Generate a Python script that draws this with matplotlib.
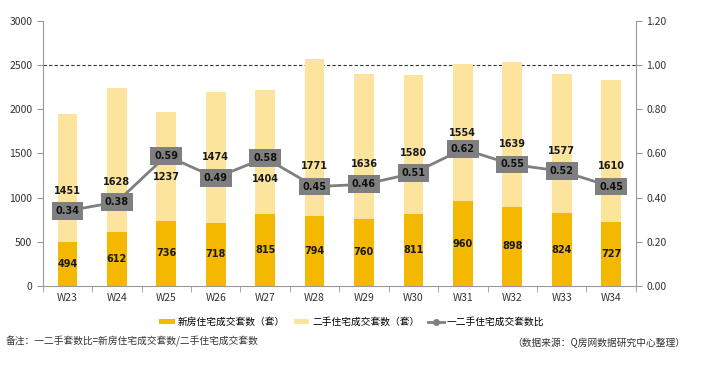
import matplotlib
matplotlib.use("Agg")
import matplotlib.pyplot as plt
from matplotlib.lines import Line2D
from matplotlib.patches import Patch
import numpy as np

plt.rcParams['font.family'] = ['Noto Sans CJK SC', 'DejaVu Sans']

weeks = ['W23', 'W24', 'W25', 'W26', 'W27', 'W28', 'W29', 'W30', 'W31', 'W32', 'W33', 'W34']
new_homes = [494, 612, 736, 718, 815, 794, 760, 811, 960, 898, 824, 727]
second_homes = [1451, 1628, 1237, 1474, 1404, 1771, 1636, 1580, 1554, 1639, 1577, 1610]
ratio = [0.34, 0.38, 0.59, 0.49, 0.58, 0.45, 0.46, 0.51, 0.62, 0.55, 0.52, 0.45]

c_new = '#F5B800'
c_sec = '#FDE49C'
c_line = '#7F7F7F'

fig = plt.figure(figsize=(7.12, 3.89), dpi=100)
ax = fig.add_axes([0.060, 0.265, 0.833, 0.681])
x = np.arange(len(weeks))
w = 0.40
ax.bar(x, new_homes, w, color=c_new, zorder=2)
ax.bar(x, second_homes, w, bottom=new_homes, color=c_sec, zorder=2)

scale = 3000 / 1.2  # left-axis units per ratio unit
for i in range(len(weeks)):
    ax.text(x[i], new_homes[i] / 2, str(new_homes[i]), ha='center', va='center',
            fontsize=7, fontweight='bold', color='#1a1a1a', zorder=4, family='DejaVu Sans')
    mid = new_homes[i] + second_homes[i] / 2
    rpos = ratio[i] * scale
    if abs(mid - rpos) < 160:
        ly = rpos - 240
    else:
        ly = min(mid, rpos + 230)
    ax.text(x[i], ly, str(second_homes[i]),
            ha='center', va='center', fontsize=7, fontweight='bold', color='#1a1a1a',
            zorder=4, family='DejaVu Sans')

ax.set_xlim(-0.5, len(weeks) - 0.5)
ax.set_ylim(0, 3000)
ax.set_yticks(range(0, 3001, 500))
ax.set_xticks(x)
ax.set_xticklabels(weeks)
ax.set_xticks(np.arange(-0.5, len(weeks), 1), minor=True)
ax.tick_params(axis='x', which='major', length=0, labelsize=7.5, pad=5, colors='#333333')
ax.tick_params(axis='x', which='minor', length=4, color='#999999')
ax.tick_params(axis='y', length=4, labelsize=7.5, color='#999999', labelcolor='#333333')
for s in ['top', 'right']:
    ax.spines[s].set_visible(False)
for s in ['left', 'bottom']:
    ax.spines[s].set_color('#999999')
ax.axhline(2500, color='#333333', linestyle=(0, (3, 2)), linewidth=0.8, zorder=1)

ax2 = ax.twinx()
ax2.set_ylim(0, 1.2)
ax2.set_yticks(np.arange(0, 1.21, 0.2))
ax2.set_yticklabels([f'{v:.2f}' for v in np.arange(0, 1.21, 0.2)])
ax2.tick_params(axis='y', length=4, labelsize=7.5, color='#999999', labelcolor='#333333')
for s in ['top', 'left', 'bottom']:
    ax2.spines[s].set_visible(False)
ax2.spines['right'].set_color('#999999')
ax2.plot(x, ratio, color=c_line, linewidth=2, zorder=3)
for i in range(len(weeks)):
    ax2.text(x[i], ratio[i], f'{ratio[i]:.2f}', ha='center', va='center', fontsize=7,
             fontweight='bold', color='#111111', zorder=5, family='DejaVu Sans',
             bbox=dict(boxstyle='square,pad=0.4', facecolor=c_line, edgecolor='none'))

handles = [Patch(facecolor=c_new, edgecolor='none'),
           Patch(facecolor=c_sec, edgecolor='none'),
           Line2D([0], [0], color=c_line, linewidth=2, marker='o', markersize=4)]
labels = ['新房住宅成交套数（套）', '二手住宅成交套数（套）', '一二手住宅成交套数比']
fig.legend(handles, labels, loc='center', bbox_to_anchor=(0.494, 0.172), ncol=3, frameon=False,
           fontsize=7, handlelength=1.6, handleheight=0.5, columnspacing=0.9, handletextpad=0.3)

fig.text(0.008, 0.123, '备注：一二手套数比=新房住宅成交套数/二手住宅成交套数', fontsize=7, color='#333333',
         va='center', ha='left')
fig.text(0.962, 0.118, '（数据来源：Q房网数据研究中心整理）', fontsize=7, color='#333333',
         va='center', ha='right')

fig.savefig('out.png', dpi=100)
